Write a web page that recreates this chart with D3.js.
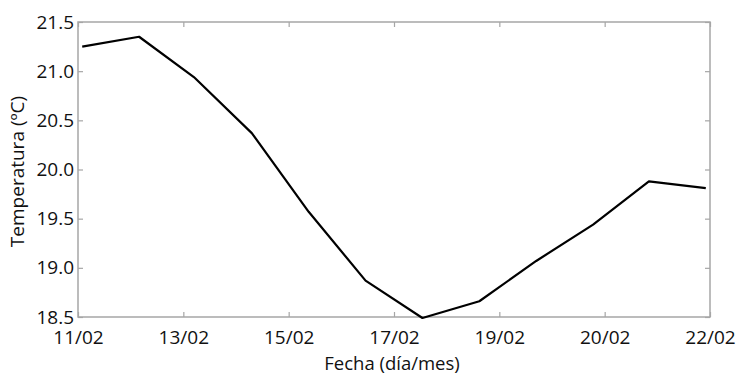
<!DOCTYPE html>
<meta charset="utf-8">
<style>
body { margin: 0; background: #fff; }
text { font-family: "Open Sans", sans-serif; fill: #111; }
.frame { fill: none; stroke: #a6a6a6; stroke-width: 1.5px; }
.tick-mark { stroke: #a6a6a6; stroke-width: 1.2px; }
.temp-line { fill: none; stroke: #000; stroke-width: 2.2px; stroke-linejoin: round; }
</style>
<body>
<script src="https://d3js.org/d3.v7.min.js" charset="utf-8"></script>
<script>

var width = 739,
    height = 374;

var margin = {top: 22, right: 29, bottom: 57, left: 78};

// x tick labels (evenly spaced, as in the original)
var dateLabels = ["11/02", "13/02", "15/02", "17/02", "19/02", "20/02", "22/02"];
var tempTicks = [18.5, 19.0, 19.5, 20.0, 20.5, 21.0, 21.5];

// sample positions, measured in tick steps, and temperatures (ºC)
var samplePos = [0.04, 0.58, 1.10, 1.65, 2.19, 2.73, 3.27, 3.81, 4.35, 4.89, 5.42, 5.96];
var tempVals  = [21.25, 21.35, 20.94, 20.37, 19.57, 18.87, 18.49, 18.66, 19.07, 19.44, 19.88, 19.81];

var innerW = width - margin.left - margin.right,
    innerH = height - margin.top - margin.bottom;

var x = d3.scaleLinear()
    .domain([0, dateLabels.length - 1])
    .range([0, innerW]);

var y = d3.scaleLinear()
    .domain([18.5, 21.5])
    .range([innerH, 0]);

var svg = d3.select("body").append("svg")
    .attr("width", width)
    .attr("height", height);

var g = svg.append("g")
    .attr("transform", `translate(${margin.left},${margin.top})`);

var tickIdx = d3.range(dateLabels.length);

// bottom & top axes: ticks point inward
var xBottom = d3.axisBottom(x)
    .tickValues(tickIdx)
    .tickSizeInner(-5)
    .tickSizeOuter(0)
    .tickPadding(14)
    .tickFormat(i => dateLabels[i]);

var xTop = d3.axisTop(x)
    .tickValues(tickIdx)
    .tickSizeInner(-5)
    .tickSizeOuter(0)
    .tickFormat("");

var yLeft = d3.axisLeft(y)
    .tickValues(tempTicks)
    .tickSizeInner(-5)
    .tickSizeOuter(0)
    .tickPadding(4)
    .tickFormat(d3.format(".1f"));

var yRight = d3.axisRight(y)
    .tickValues(tempTicks)
    .tickSizeInner(-5)
    .tickSizeOuter(0)
    .tickFormat("");

function styleAxis(sel) {
  sel.select(".domain").remove();
  sel.selectAll(".tick line").attr("class", "tick-mark");
  sel.selectAll(".tick text")
    .style("font-size", "19px")
    .attr("fill", "#111");
}

g.append("g").attr("transform", `translate(0,${innerH})`).call(xBottom).call(styleAxis);
g.append("g").call(xTop).call(styleAxis);
g.append("g").call(yLeft).call(styleAxis);
g.append("g").attr("transform", `translate(${innerW},0)`).call(yRight).call(styleAxis);

g.append("rect")
    .attr("class", "frame")
    .attr("width", innerW)
    .attr("height", innerH);

var line = d3.line()
    .x((d, i) => x(samplePos[i]))
    .y(d => y(d));

g.append("path")
    .datum(tempVals)
    .attr("class", "temp-line")
    .attr("d", line);

// axis titles
svg.append("text")
    .attr("x", margin.left + innerW / 2 - 2)
    .attr("y", 369.5)
    .attr("text-anchor", "middle")
    .style("font-size", "18.5px")
    .text("Fecha (día/mes)");

svg.append("text")
    .attr("transform", `translate(24,${margin.top + innerH / 2 + 2}) rotate(-90)`)
    .attr("text-anchor", "middle")
    .style("font-size", "19px")
    .text("Temperatura (ºC)");

</script>
